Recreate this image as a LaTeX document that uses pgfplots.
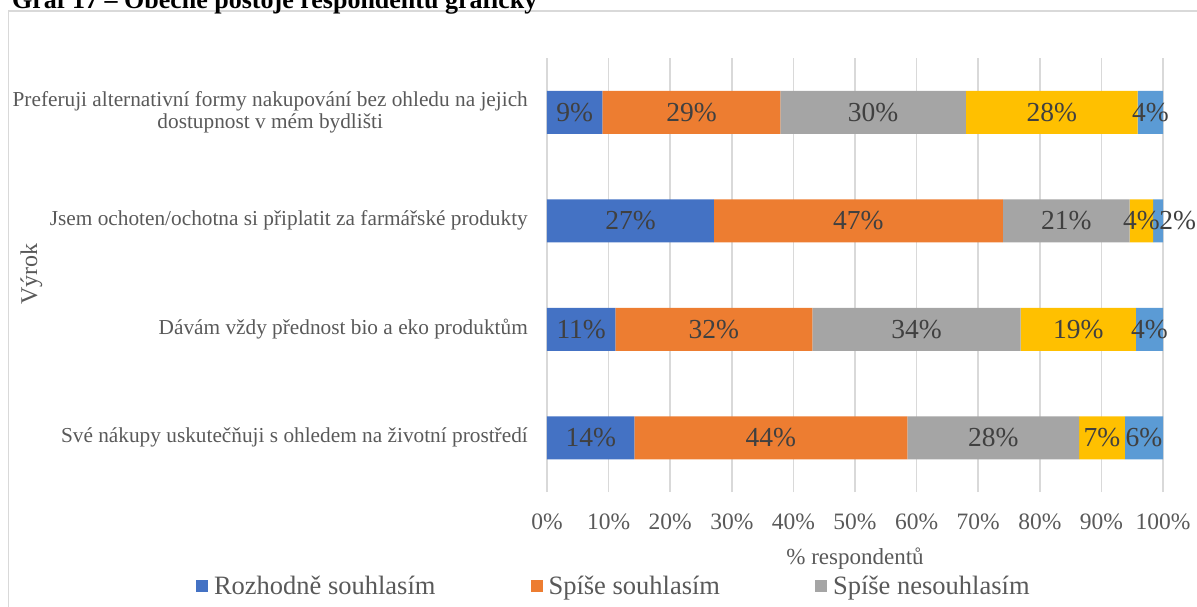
\documentclass[border=0pt]{standalone}
\usepackage{fontspec}
\setmainfont{Liberation Serif}
\usepackage{pgfplots}
\usepackage{pgfplotstable}
\pgfplotsset{compat=1.18}
\definecolor{c1}{HTML}{4472C4}
\definecolor{c2}{HTML}{ED7D31}
\definecolor{c3}{HTML}{A5A5A5}
\definecolor{c4}{HTML}{FFC000}
\definecolor{c5}{HTML}{5B9BD5}
\definecolor{txt}{HTML}{595959}
\definecolor{lbl}{HTML}{404040}
\definecolor{gridc}{HTML}{D9D9D9}

% idx: 3 = top row; a..e = five answer categories (percent); dx = label offset
\pgfplotstableread{
idx a b c d e dx
3 9.0 28.9 30.1 27.9 4.1 0
2 27.1 46.9 20.6 3.8 1.6 3.2
1 11.1 32.0 33.8 18.7 4.4 0
0 14.2 44.3 27.9 7.4 6.2 0
}\data

\pgfplotsset{
  common/.style={
    at={(547pt,-492pt)}, anchor=south west,
    scale only axis, width=616pt, height=434pt,
    xmin=0, xmax=100, ymin=-0.5, ymax=3.5,
  },
  lab/.style={
    draw=none, mark=none, forget plot,
    nodes near coords={\pgfmathprintnumber[fixed,precision=0,assume math mode=true]{\pgfplotspointmeta}\%},
    every node near coord/.append style={anchor=center, inner sep=0pt,
      font=\fontsize{27.5}{30}\selectfont, text=lbl},
  },
}

\begin{document}
\begin{tikzpicture}
\path[use as bounding box] (0pt,0pt) rectangle (1197pt,-606pt);
\draw[gridc, line width=1.3pt] (8.5pt,-700pt) -- (8.5pt,-11pt) -- (1300pt,-11pt);
\node[anchor=base west, inner sep=0pt, font=\bfseries\fontsize{26}{30}\selectfont] at (12pt,-8pt) {Graf 17 – Obecné postoje respondentů graficky};

\begin{axis}[common,
  xbar stacked, bar width=43pt,
  axis line style={draw=none}, major tick style={draw=none},
  xmajorgrids, grid style={gridc, line width=1.5pt},
  xtick={0,10,...,100},
  xticklabels={0\%,10\%,20\%,30\%,40\%,50\%,60\%,70\%,80\%,90\%,100\%},
  xticklabel style={anchor=base, inner sep=0pt, yshift=-37pt,
    font=\fontsize{23.5}{28}\selectfont, text=txt},
  ytick={0,1,2,3},
  yticklabels={{Své nákupy uskutečňuji s ohledem na životní prostředí},
    {Dávám vždy přednost bio a eko produktům},
    {Jsem ochoten/ochotna si připlatit za farmářské produkty},
    {Preferuji alternativní formy nakupování bez ohledu na jejich\\dostupnost v mém bydlišti}},
  yticklabel style={anchor=east, align=center, inner sep=0pt, xshift=-19pt,
    font=\fontsize{21.3}{22.5}\selectfont, text=txt},
  legend columns=3,
  legend style={draw=none, fill=none, inner sep=0pt, outer sep=0pt,
    anchor=west, at={(axis description cs:-0.5698,-0.2166)},
    column sep=0pt,
    /tikz/every even column/.append style={column sep=95pt},
    nodes={inner sep=0pt, text height=16pt, text depth=0pt, text=txt,
      font=\fontsize{26.5}{30}\selectfont}},
  legend image code/.code={\fill[#1] (0pt,-6pt) rectangle (12pt,6pt); \path (18pt,0pt);},
]
\addplot[fill=c1, draw=none] table[x=a, y=idx] {\data};
\addplot[fill=c2, draw=none] table[x=b, y=idx] {\data};
\addplot[fill=c3, draw=none] table[x=c, y=idx] {\data};
\addplot[fill=c4, draw=none] table[x=d, y=idx] {\data};
\addplot[fill=c5, draw=none] table[x=e, y=idx] {\data};
\legend{Rozhodně souhlasím, Spíše souhlasím, Spíše nesouhlasím}
\end{axis}

\begin{axis}[common, hide axis, clip=false]
\addplot[lab, point meta=\thisrow{a}] table[x expr=\thisrow{a}/2, y=idx] {\data};
\addplot[lab, point meta=\thisrow{b}] table[x expr=\thisrow{a}+\thisrow{b}/2, y=idx] {\data};
\addplot[lab, point meta=\thisrow{c}] table[x expr=\thisrow{a}+\thisrow{b}+\thisrow{c}/2, y=idx] {\data};
\addplot[lab, point meta=\thisrow{d}] table[x expr=\thisrow{a}+\thisrow{b}+\thisrow{c}+\thisrow{d}/2, y=idx] {\data};
\addplot[lab, point meta=\thisrow{e}] table[x expr=\thisrow{a}+\thisrow{b}+\thisrow{c}+\thisrow{d}+\thisrow{e}/2+\thisrow{dx}, y=idx] {\data};
\end{axis}

\node[anchor=base, inner sep=0pt, font=\fontsize{23}{28}\selectfont, text=txt] at (855pt,-564pt) {\% respondentů};
\node[rotate=90, anchor=base, inner sep=0pt, font=\fontsize{24}{28}\selectfont, text=txt] at (37pt,-274pt) {Výrok};
\end{tikzpicture}
\end{document}
